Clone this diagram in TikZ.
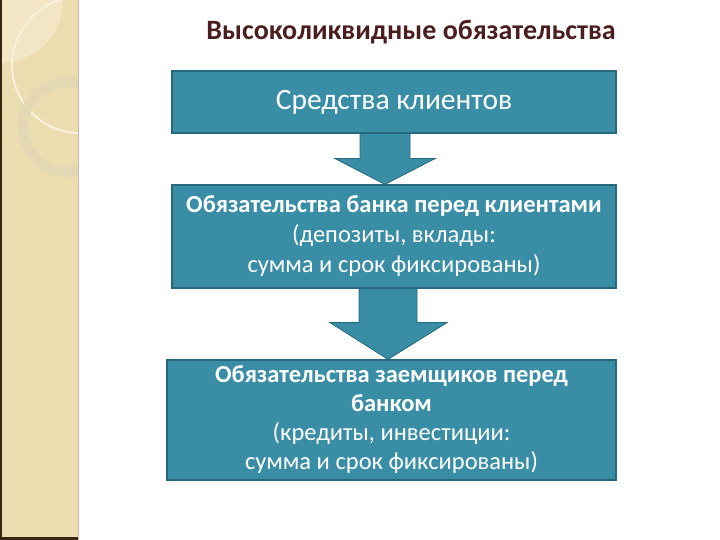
\documentclass[tikz,border=0pt]{standalone}
\usepackage{fontspec}
\setmainfont{Carlito}
\usetikzlibrary{calc}
\definecolor{teal1}{RGB}{57,142,166}
\definecolor{tealdark}{RGB}{38,105,125}
\definecolor{beige}{RGB}{236,221,177}
\definecolor{beigelight}{RGB}{242,230,196}
\definecolor{arccol}{RGB}{248,242,220}
\definecolor{ringcol}{RGB}{228,215,180}
\definecolor{titlecol}{RGB}{74,30,30}
\tikzset{
  box/.style={draw=tealdark, line width=1.2pt, fill=teal1, text=white, align=center, inner sep=0pt},
  flowarrow/.style={fill=teal1, draw=tealdark, line width=0.8pt, line join=miter},
}
\begin{document}
\begin{tikzpicture}[x=1pt,y=-1pt]
\useasboundingbox (0,0) rectangle (720,540);
\fill[white] (0,0) rectangle (720,540);
% left decorative strip
\begin{scope}
\clip (0,0) rectangle (78,540);
\fill[beige] (0,0) rectangle (78,540);
\fill[beigelight] (0,0) circle (63);
\draw[arccol, line width=2pt] (80,65) circle (68);
\draw[ringcol, line width=10pt] (68,127) circle (45);
\end{scope}
\fill[black!70!brown] (0,0) rectangle (2,540);
\fill[black!70!brown] (0,537) rectangle (78,540);
\draw[color={rgb,255:red,200;green,185;blue,170}, line width=1.5pt] (78.5,0) -- (78.5,540);
% title
\node[font=\bfseries\fontsize{28}{32}\selectfont, text=titlecol] (title) at (411,32) {Высоколиквидные обязательства};
% boxes
\node[box, minimum width=444, minimum height=62, font=\fontsize{29.5}{32}\selectfont] (b1) at (394,102) {Средства клиентов};
\node[box, minimum width=444, minimum height=103, font=\fontsize{24.5}{30}\selectfont] (b2) at (394,236.5)
  {\textbf{Обязательства банка перед клиентами}\\(депозиты, вклады:\\сумма и срок фиксированы)};
\node[box, minimum width=449, minimum height=120, font=\fontsize{24.5}{29}\selectfont] (b3) at (391.5,420)
  {\textbf{Обязательства заемщиков перед}\\\textbf{банком}\\(кредиты, инвестиции:\\сумма и срок фиксированы)};
% arrows
\draw[flowarrow] ($(b1.south)+(-34,0)$) -- ($(b1.south)+(16,0)$) -- ($(b1.south)+(16,25)$) -- ($(b1.south)+(41,25)$)
  -- ($(b2.north)+(-9,0)$) -- ($(b1.south)+(-59,25)$) -- ($(b1.south)+(-34,25)$) -- cycle;
\draw[flowarrow] ($(b2.south)+(-35,0)$) -- ($(b2.south)+(23,0)$) -- ($(b2.south)+(23,34)$) -- ($(b2.south)+(53,34)$)
  -- ($(b3.north)+(-3.5,0)$) -- ($(b2.south)+(-64,34)$) -- ($(b2.south)+(-35,34)$) -- cycle;
\end{tikzpicture}
\end{document}
